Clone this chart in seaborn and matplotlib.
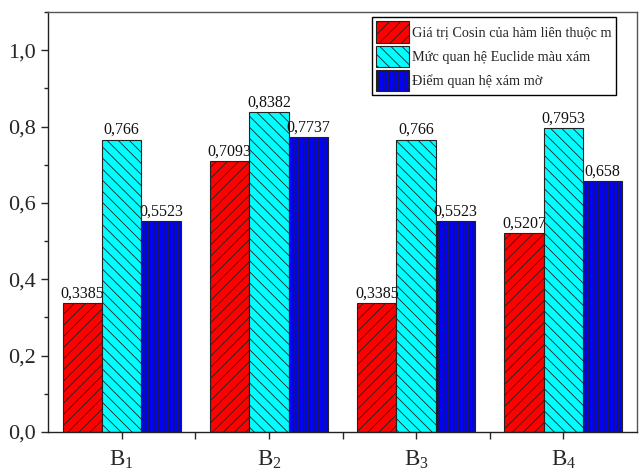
import matplotlib
matplotlib.use("Agg")
import matplotlib.pyplot as plt
import seaborn as sns
import pandas as pd
from matplotlib.ticker import MultipleLocator, FuncFormatter

categories = ["B1", "B2", "B3", "B4"]
tick_labels = [r"$\mathrm{B}_1$", r"$\mathrm{B}_2$", r"$\mathrm{B}_3$", r"$\mathrm{B}_4$"]
series_names = [
    "Giá trị Cosin của hàm liên thuộc m",
    "Mức quan hệ Euclide màu xám",
    "Điểm quan hệ xám mờ",
]
cosine_vals = [0.3385, 0.7093, 0.3385, 0.5207]
euclid_vals = [0.766, 0.8382, 0.766, 0.7953]
grey_vals = [0.5523, 0.7737, 0.5523, 0.658]

colors = ["#ff0000", "#00ffff", "#0000ff"]
hatches = ["///", "\\\\\\", "|||||"]

rows = []
for name, vals in zip(series_names, [cosine_vals, euclid_vals, grey_vals]):
    for c, v in zip(categories, vals):
        rows.append({"cat": c, "val": v, "series": name})
df = pd.DataFrame(rows)

sns.set_style("ticks")
plt.rcParams["font.family"] = ["Liberation Serif", "DejaVu Serif"]
plt.rcParams["mathtext.fontset"] = "custom"
plt.rcParams["mathtext.rm"] = "Liberation Serif"
plt.rcParams["mathtext.it"] = "Liberation Serif:italic"
plt.rcParams["hatch.linewidth"] = 0.6
plt.rcParams["hatch.color"] = "black"

fig = plt.figure(figsize=(6.41, 4.73), dpi=100)
ax = fig.add_axes([48 / 641, 41 / 473, 589 / 641, 420 / 473])

sns.barplot(data=df, x="cat", y="val", hue="series", order=categories,
            hue_order=series_names, palette=colors, saturation=1,
            width=0.8, edgecolor="#222222", linewidth=0.8, ax=ax,
            errorbar=None, legend=False)

def comma(v):
    return f"{v:g}".replace(".", ",")

for cont, h, name in zip(ax.containers, hatches, series_names):
    for p in cont.patches:
        p.set_hatch(h)
    cont.set_label(name)
    ax.bar_label(cont, labels=[comma(v) for v in cont.datavalues],
                 padding=1, fontsize=11.5, color="#111111")

leg = ax.legend(handles=ax.containers, labels=series_names, loc="upper right",
                bbox_to_anchor=(0.965, 0.988), fontsize=10.3, frameon=True,
                fancybox=False, edgecolor="black", framealpha=1,
                handlelength=2.3, handleheight=1.9, handletextpad=0.25,
                labelspacing=0.22, borderpad=0.3, borderaxespad=0.0)
leg.get_frame().set_linewidth(1.0)

ax.set_xlim(-0.5, 3.5)
ax.set_ylim(0, 1.1)
ax.yaxis.set_major_locator(MultipleLocator(0.2))
ax.yaxis.set_minor_locator(MultipleLocator(0.1))
ax.yaxis.set_major_formatter(FuncFormatter(lambda v, p: f"{v:.1f}".replace(".", ",")))
ax.set_xticks(range(4))
ax.set_xticklabels(tick_labels, fontsize=16.5)
ax.set_xticks([0.5, 1.5, 2.5], minor=True)
ax.tick_params(axis="y", labelsize=16, length=5, width=1, direction="out", pad=4)
ax.tick_params(axis="y", which="minor", length=3, width=1)
ax.tick_params(axis="x", length=5, width=1, pad=7)
ax.tick_params(axis="x", which="minor", length=5, width=1)
ax.set_xlabel("")
ax.set_ylabel("")
for s in ax.spines.values():
    s.set_visible(True)
    s.set_linewidth(1.0)
    s.set_color("#222222")
ax.spines["top"].set_color("#555555")
ax.spines["right"].set_color("#555555")

fig.savefig("out.png", dpi=100)
